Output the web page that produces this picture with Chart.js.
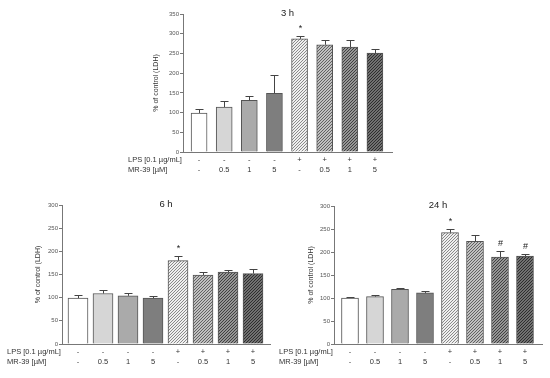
<!DOCTYPE html>
<html>
<head>
<meta charset="utf-8">
<script src="https://cdn.jsdelivr.net/npm/chart.js@4"></script>
<style>
  body { margin: 0; background: #fff; width: 550px; height: 378px; position: relative; overflow: hidden; }
  canvas { position: absolute; }
</style>
</head>
<body>
<canvas id="c3" width="280" height="180" style="left:120px;top:0px;width:280px;height:180px"></canvas>
<canvas id="c6" width="275" height="188" style="left:0px;top:190px;width:275px;height:188px"></canvas>
<canvas id="c24" width="275" height="188" style="left:275px;top:190px;width:275px;height:188px"></canvas>
<script>
// treatment rows under each bar
const lpsRow = ['-', '-', '-', '-', '+', '+', '+', '+'];
const mrRow = ['-', '0.5', '1', '5', '-', '0.5', '1', '5'];
const rowHeaders = ['LPS [0.1 µg/mL]', 'MR-39 [µM]'];
const yTitle = '% of control (LDH)';

// % of control (LDH), mean and upper error
const mean3h = [99, 114, 131, 149, 287, 272, 266, 251];
const err3h = [10, 15, 10, 46, 8, 13, 19, 11];
const marks3h = ['', '', '', '', '*', '', '', ''];

const mean6h = [99, 109, 104, 99, 180, 149, 155, 152];
const err6h = [6, 7, 5, 5, 10, 6, 5, 9];
const marks6h = ['', '', '', '', '*', '', '', ''];

const mean24h = [100, 103, 119, 111, 242, 223, 189, 191];
const err24h = [3, 4, 3, 5, 9, 13, 14, 4];
const marks24h = ['', '', '', '', '*', '', '#', '#'];

const FONT = '"Liberation Sans", Arial, sans-serif';

function hatch(base, line) {
    const c = document.createElement('canvas');
    c.width = c.height = 3;
    const g = c.getContext('2d');
    g.fillStyle = base;
    g.fillRect(0, 0, 3, 3);
    g.fillStyle = line;
    for (let i = 0; i < 3; i++) g.fillRect(i, 2 - i, 1, 1);
    return g.createPattern(c, 'repeat');
}

const fills = [
    '#ffffff', '#d6d6d6', '#aaaaaa', '#7e7e7e',
    hatch('#efefef', '#8a8a8a'),
    hatch('#c0c0c0', '#626262'),
    hatch('#959595', '#404040'),
    hatch('#707070', '#2e2e2e')
];

function makeExtras(title, means, errs, marks) {
    return {
        id: 'extras',
        afterDatasetsDraw(chart) {
            const { ctx, chartArea: a, scales: { x, y } } = chart;
            ctx.save();
            ctx.strokeStyle = '#444';
            ctx.lineWidth = 1;
            ctx.fillStyle = '#222';
            ctx.textAlign = 'center';
            ctx.textBaseline = 'bottom';
            ctx.font = '9px ' + FONT;
            means.forEach((m, i) => {
                const cx = Math.round(x.getPixelForValue(i)) + 0.5;
                const y0 = y.getPixelForValue(m);
                const y1 = Math.round(y.getPixelForValue(m + errs[i])) + 0.5;
                ctx.beginPath();
                ctx.moveTo(cx, y0);
                ctx.lineTo(cx, y1);
                ctx.moveTo(cx - 4, y1);
                ctx.lineTo(cx + 4, y1);
                ctx.stroke();
                if (marks[i]) ctx.fillText(marks[i], cx, y1 - 3);
            });
            // panel title
            ctx.textBaseline = 'middle';
            ctx.font = '9.5px ' + FONT;
            ctx.fillText(title, (a.left + a.right) / 2, a.top - 1);
            // row headers
            ctx.textAlign = 'left';
            ctx.font = '7.5px ' + FONT;
            ctx.fillStyle = '#333';
            ctx.fillText(rowHeaders[0], a.left - 55, a.bottom + 8);
            ctx.fillText(rowHeaders[1], a.left - 55, a.bottom + 18);
            ctx.restore();
        }
    };
}

function drawPanel(id, title, means, errs, marks, yMax, barW, pad, yW, xH) {
    new Chart(document.getElementById(id), {
        type: 'bar',
        data: {
            datasets: [{
                data: means.map((v, i) => ({ x: i, y: v })),
                backgroundColor: fills,
                borderColor: '#555',
                borderWidth: 1,
                barThickness: barW
            }]
        },
        options: {
            responsive: false,
            animation: false,
            devicePixelRatio: 1,
            layout: { padding: pad },
            plugins: { legend: { display: false }, tooltip: { enabled: false } },
            scales: {
                x: {
                    type: 'linear',
                    offset: false,
                    min: -0.64,
                    max: 7.68,
                    grid: { display: false, drawTicks: false, offset: false },
                    border: { color: '#777' },
                    afterBuildTicks: s => { s.ticks = lpsRow.map((_, i) => ({ value: i })); },
                    afterFit: s => { s.height = xH; },
                    ticks: {
                        autoSkip: false,
                        maxRotation: 0,
                        padding: 3,
                        color: '#333',
                        font: { family: FONT, size: 7.5, lineHeight: 1.3 },
                        callback: v => [lpsRow[v], mrRow[v]]
                    }
                },
                y: {
                    min: 0,
                    max: yMax,
                    grid: { drawOnChartArea: false, drawTicks: true, tickLength: 3, color: '#777' },
                    border: { color: '#777' },
                    afterFit: s => { s.width = yW; },
                    ticks: { stepSize: 50, padding: 1, color: '#555', font: { family: FONT, size: 6 } },
                    title: {
                        display: true,
                        text: yTitle,
                        color: '#333',
                        padding: 0,
                        font: { family: FONT, size: 7 }
                    }
                }
            }
        },
        plugins: [makeExtras(title, means, errs, marks)]
    });
}

drawPanel('c3', '3 h', mean3h, err3h, marks3h, 350, 16,
    { left: 32, right: 8, top: 14, bottom: 0 }, 31, 28);
drawPanel('c6', '6 h', mean6h, err6h, marks6h, 300, 20,
    { left: 34, right: 5, top: 15, bottom: 0 }, 28, 34);
drawPanel('c24', '24 h', mean24h, err24h, marks24h, 300, 17,
    { left: 32, right: 8, top: 16, bottom: 0 }, 27, 34);
</script>
</body>
</html>
